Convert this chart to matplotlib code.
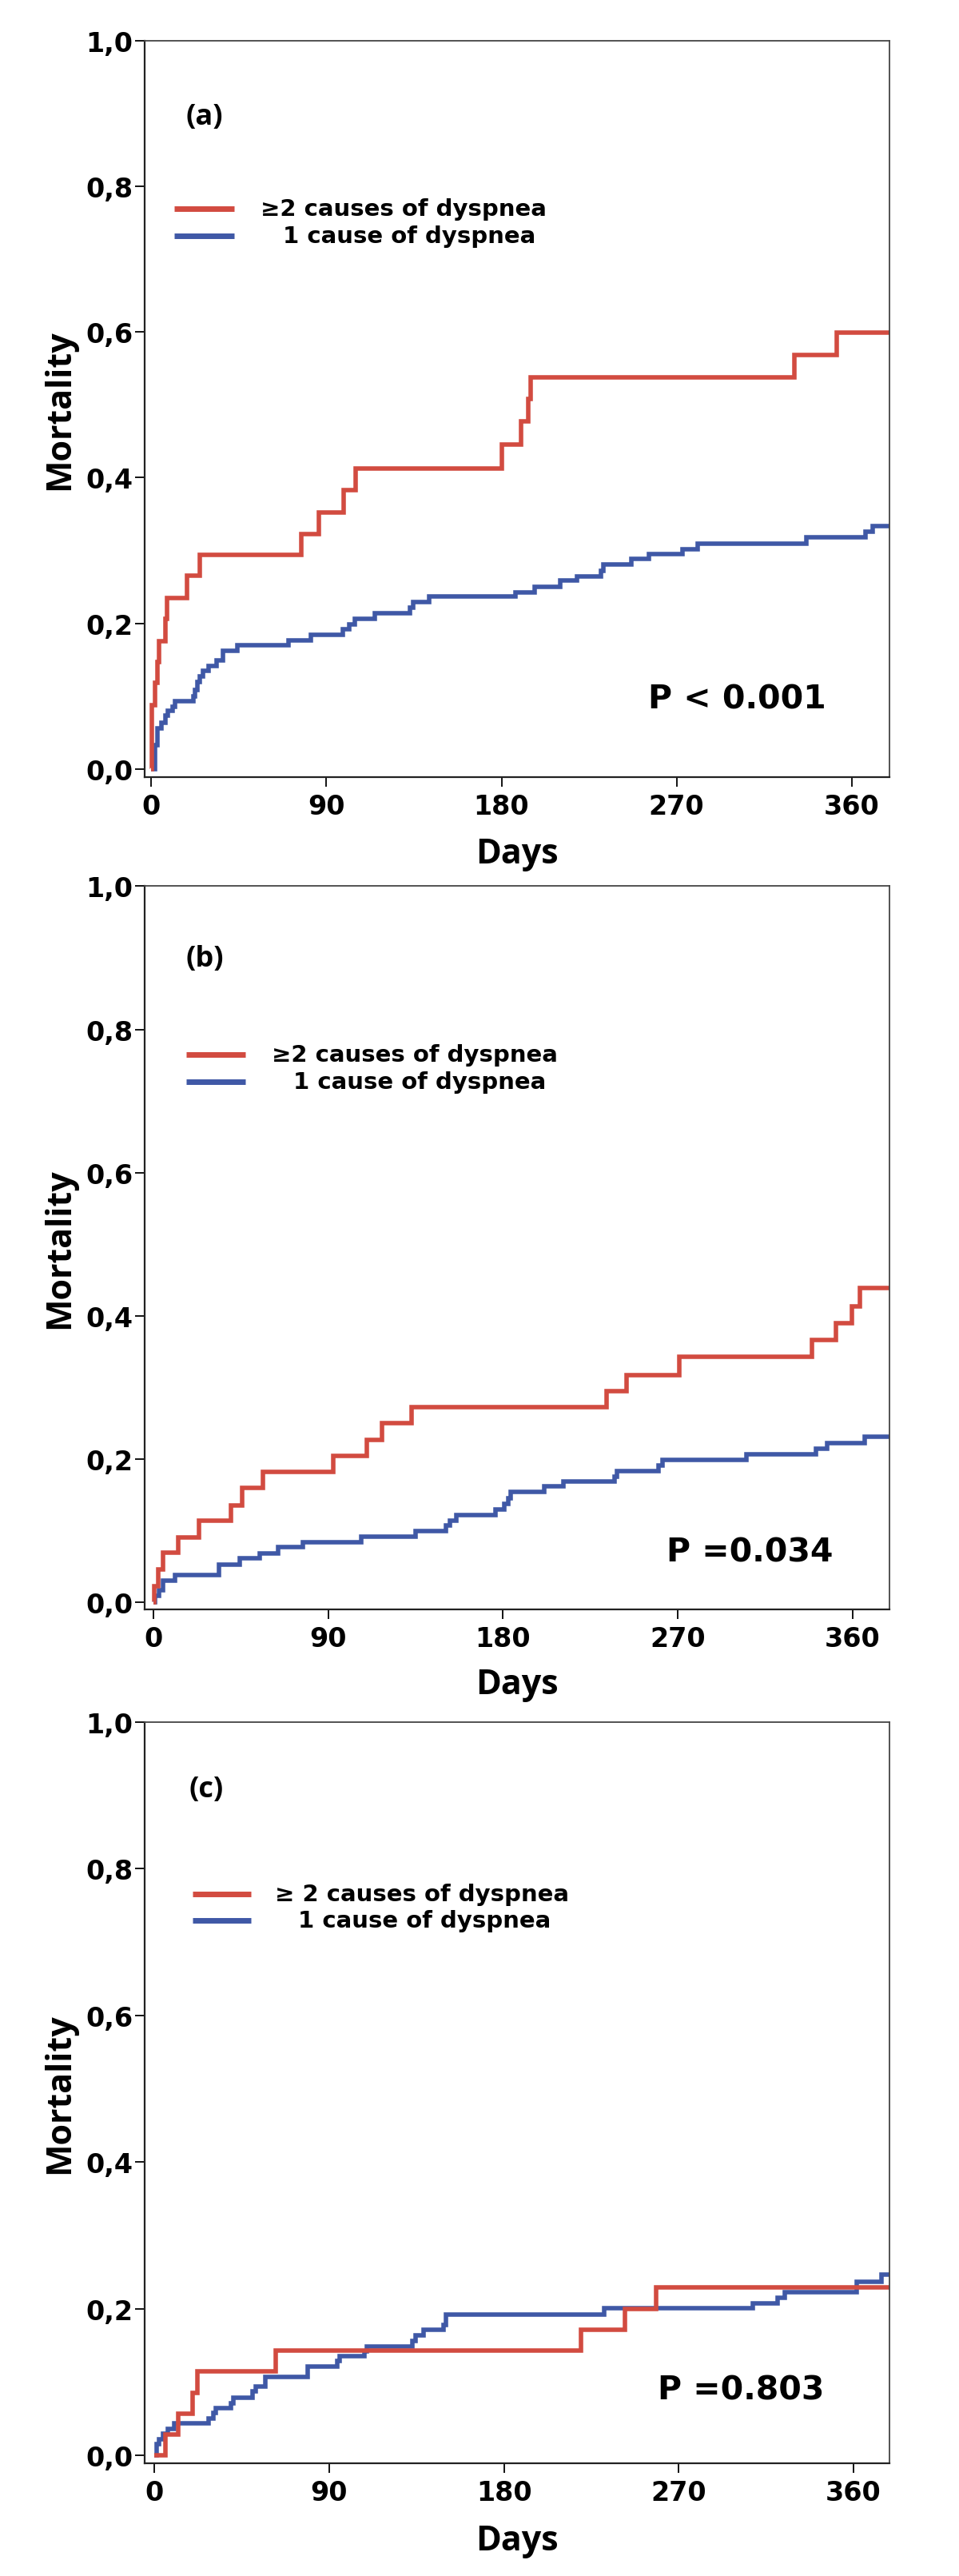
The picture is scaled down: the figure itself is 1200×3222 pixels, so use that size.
import numpy as np
import matplotlib.pyplot as plt

RED = '#d24b40'
BLUE = '#3f58a6'

# panel (a)
a_red_t = [0, 0.3, 1.8, 2.9, 3.8, 7.0, 7.9, 18.2, 25, 77, 86, 99, 105, 180, 190, 193.6, 194.8, 330.8, 352.2, 379.5]
a_red_v = [0, 0.088, 0.118, 0.147, 0.176, 0.206, 0.235, 0.265, 0.294, 0.323, 0.352, 0.383, 0.413,
           0.446, 0.477, 0.508, 0.538, 0.568, 0.599, 0.599]
a_blue_t = [0, 1.8, 3.2, 5.2, 7.3, 8.6, 10.7, 12, 21.6, 22.5, 23.7, 25, 26.4, 29.2, 33.3, 36.7, 44.3,
            70.3, 81.9, 98.3, 101.8, 104.5, 115, 133, 134.5, 143, 187.1, 196.9, 210, 218.8, 231.2,
            232.4, 246.7, 255.9, 273, 280.7, 336.7, 367, 370.7, 379.5]
a_blue_v = [0, 0.0325, 0.056, 0.064, 0.073, 0.080, 0.0855, 0.093, 0.100, 0.109, 0.120, 0.1275, 0.135,
            0.142, 0.1495, 0.162, 0.1697, 0.177, 0.184, 0.1916, 0.199, 0.206, 0.2135, 0.222, 0.229,
            0.2365, 0.2427, 0.250, 0.2585, 0.2647, 0.272, 0.2804, 0.2885, 0.295, 0.302, 0.3097,
            0.3177, 0.3258, 0.333, 0.333]

# panel (b)
b_red_t = [0, 0.5, 2.6, 5.1, 12.8, 23.5, 40, 45.9, 56.6, 92.7, 110, 117.7, 132.9, 233.5, 243.7,
           270.9, 339.2, 351.4, 359.5, 363.9, 379]
b_red_v = [0, 0.023, 0.046, 0.070, 0.091, 0.114, 0.136, 0.160, 0.182, 0.205, 0.227, 0.250, 0.273,
           0.295, 0.318, 0.343, 0.367, 0.390, 0.414, 0.439, 0.439]
b_blue_t = [0, 1, 3.1, 5.1, 11.2, 33.6, 44.6, 54.8, 64.2, 76.9, 107, 135, 150.8, 152.5, 155.8,
            176.2, 180.8, 182.6, 183.9, 201.2, 211.1, 237.3, 238.6, 260.2, 262, 305.5, 341.2,
            346.8, 366.4, 379]
b_blue_v = [0, 0.009, 0.017, 0.0306, 0.0384, 0.0533, 0.062, 0.069, 0.0776, 0.0846, 0.0925, 0.1003,
            0.1081, 0.1148, 0.1226, 0.1305, 0.1383, 0.1461, 0.154, 0.1618, 0.1688, 0.1763, 0.1834,
            0.1912, 0.199, 0.2069, 0.2147, 0.2225, 0.231, 0.231]

# panel (c)
c_red_t = [0, 5.6, 12.2, 19.9, 22.1, 62.4, 219.5, 242.4, 258.4, 378.5]
c_red_v = [0, 0.0286, 0.0571, 0.0857, 0.1143, 0.1429, 0.1714, 0.2, 0.2286, 0.2286]
c_blue_t = [0, 1.3, 2.5, 4.6, 7.1, 10.2, 28, 30.6, 31.8, 39.5, 40.7, 50.4, 52.2, 57.3, 79, 94.2,
            95.5, 108.2, 109.5, 132.9, 134.4, 138.8, 149, 150.2, 231.7, 308.1, 320.8, 324.6,
            361.5, 374.3, 378.5]
c_blue_v = [0, 0.015, 0.0224, 0.0297, 0.036, 0.0434, 0.0508, 0.0581, 0.0648, 0.0714, 0.0788,
            0.0869, 0.0935, 0.1072, 0.1208, 0.1293, 0.1348, 0.1422, 0.1488, 0.1562, 0.1636,
            0.171, 0.1783, 0.192, 0.2004, 0.2078, 0.2152, 0.2226, 0.2362, 0.2461, 0.2461]

panel_labels = ['(a)', '(b)', '(c)']
p_texts = ['P < 0.001', 'P =0.034', 'P =0.803']
legend_texts = [['\u22652 causes of dyspnea', '1 cause of dyspnea'],
                ['\u22652 causes of dyspnea', '1 cause of dyspnea'],
                ['\u2265 2 causes of dyspnea', '1 cause of dyspnea']]
xticks = [0, 90, 180, 270, 360]
yticks = [0.0, 0.2, 0.4, 0.6, 0.8, 1.0]
ytick_labels = ['0,0', '0,2', '0,4', '0,6', '0,8', '1,0']

curves = [(a_red_t, a_red_v, a_blue_t, a_blue_v),
          (b_red_t, b_red_v, b_blue_t, b_blue_v),
          (c_red_t, c_red_v, c_blue_t, c_blue_v)]

# layout (figure fractions) and per-panel placement
rects = [[0.1508, 0.6981, 0.7767, 0.2859],
         [0.1508, 0.37518, 0.7767, 0.28058],
         [0.1508, 0.04369, 0.7767, 0.28768]]
xlims = [(-3.5, 379.5), (-4.5, 379), (-5, 378.5)]
ylims = [(-0.011, 1.0), (-0.0093, 1.0), (-0.011, 1.0)]
lab_pos = [(17.7, 0.895), (16.9, 0.899), (18, 0.908)]
leg_line = [(11.9, 42.7), (16.9, 47.3), (19.7, 49.7)]
leg_text_x = [(56.0, 67.5), (60.9, 72.0), (62.0, 74.2)]
leg_y = [(0.769, 0.7316), (0.765, 0.7275), (0.7656, 0.730)]
p_pos = [(255.6, 0.096), (264, 0.0706), (259, 0.0887)]

fig = plt.figure(figsize=(12, 32.23), dpi=100)

for i in range(3):
    ax = fig.add_axes(rects[i])
    rt, rv, bt, bv = curves[i]
    ax.step(bt, bv, where='post', color=BLUE, lw=4, solid_joinstyle='miter', solid_capstyle='butt')
    ax.step(rt, rv, where='post', color=RED, lw=4, solid_joinstyle='miter', solid_capstyle='butt')
    ax.set_xlim(xlims[i])
    ax.set_ylim(ylims[i])
    ax.set_xticks(xticks)
    ax.set_xticklabels([str(x) for x in xticks], fontfamily='DejaVu Sans', fontweight='bold', fontsize=24)
    ax.set_yticks(yticks)
    ax.set_yticklabels(ytick_labels, fontfamily='DejaVu Sans', fontweight='bold', fontsize=24)
    ax.tick_params(axis='x', length=8.5, width=1.3, pad=6, direction='out')
    ax.tick_params(axis='y', length=8.5, width=1.3, pad=2, direction='out')
    for s in ['left', 'bottom']:
        ax.spines[s].set_linewidth(1.6)
        ax.spines[s].set_color('#222222')
    for s in ['top', 'right']:
        ax.spines[s].set_linewidth(1.3)
        ax.spines[s].set_color('#444444')

    # legend drawn by hand
    ax.plot(leg_line[i], [leg_y[i][0]] * 2, color=RED, lw=5, solid_capstyle='butt')
    ax.plot(leg_line[i], [leg_y[i][1]] * 2, color=BLUE, lw=5, solid_capstyle='butt')
    ax.text(leg_text_x[i][0], leg_y[i][0], legend_texts[i][0], fontfamily='DejaVu Sans',
            fontweight='bold', fontsize=21, ha='left', va='center')
    ax.text(leg_text_x[i][1], leg_y[i][1], legend_texts[i][1], fontfamily='DejaVu Sans',
            fontweight='bold', fontsize=21, ha='left', va='center')

    ax.text(lab_pos[i][0], lab_pos[i][1], panel_labels[i], fontfamily='Open Sans',
            fontweight='bold', fontsize=26, ha='left', va='center')
    ax.text(p_pos[i][0], p_pos[i][1], p_texts[i], fontfamily='DejaVu Sans',
            fontweight='bold', fontsize=29.5, ha='left', va='center')

    ax.text(-0.1137, 0.5, 'Mortality', transform=ax.transAxes, rotation=90, fontfamily='Open Sans',
            fontweight='bold', fontsize=31, ha='center', va='center')
    ax.text(0.5, -0.104, 'Days', transform=ax.transAxes, fontfamily='Open Sans',
            fontweight='bold', fontsize=31, ha='center', va='center')

fig.savefig('out.png', dpi=100)
